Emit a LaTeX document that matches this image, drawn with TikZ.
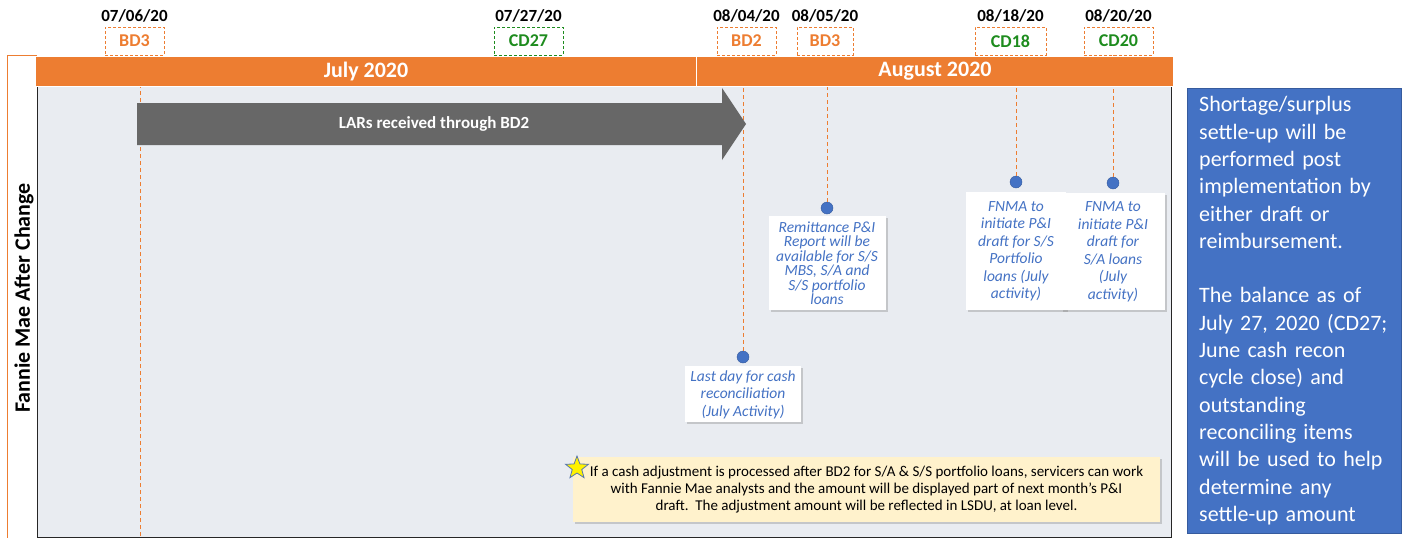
\documentclass[tikz,border=0pt]{standalone}
\usepackage{fontspec}
\setmainfont{Carlito}
\usetikzlibrary{shapes.geometric, positioning, shadows, calc}

\definecolor{fmorange}{HTML}{ED7D31}
\definecolor{fmgreen}{HTML}{1E8C1E}
\definecolor{fmblue}{HTML}{4472C4}
\definecolor{fmpanel}{HTML}{E9ECF1}
\definecolor{fmnote}{HTML}{FFF2CC}
\definecolor{fmgray}{HTML}{676767}

\begin{document}
\begin{tikzpicture}[
    x=1pt, y=-1pt,
    month/.style = {rectangle, fill=fmorange, draw=white, line width=1pt, minimum height=30pt, text=white, font=\fontsize{22}{24}\selectfont\bfseries, inner sep=0pt},
    datebox/.style = {rectangle, draw=fmorange, dash pattern=on 3pt off 2pt, line width=0.8pt, minimum height=28pt, font=\fontsize{18}{20}\selectfont\bfseries, inner sep=0pt},
    datetxt/.style = {font=\fontsize{17}{19}\selectfont\bfseries, inner sep=0pt},
    guide/.style = {draw=fmorange, dash pattern=on 4pt off 3pt, line width=0.8pt},
    dot/.style = {circle, fill=fmblue, draw=fmblue!80!black, inner sep=0pt, minimum size=12pt},
    callout/.style = {rectangle, fill=white, drop shadow={shadow xshift=2pt, shadow yshift=-2pt, opacity=0.35}, text=fmblue, font=\fontsize{15.5}{17.5}\selectfont\itshape, align=center, inner sep=2pt}
]
\useasboundingbox (0,0) rectangle (1408,538);

% Side label
\draw[fmorange, line width=0.8pt] (37,55) -- (7,55) -- (7,538);
\node[rotate=90, font=\fontsize{22}{24}\selectfont\bfseries] (lane) at (24,298) {Fannie Mae After Change};

% Panel
\node[rectangle, fill=fmpanel, draw=black!85, line width=1.2pt, anchor=north west, minimum width=1134pt, minimum height=451pt, inner sep=0pt] (panel) at (37,86) {};

% Date markers
\node[datebox, minimum width=59pt, text=fmorange] (bd3jul) at (134.5,41) {BD3};
\node[datebox, minimum width=69pt, draw=fmgreen, text=fmgreen] (cd27) at (528.5,41) {CD27};
\node[datebox, minimum width=59pt, text=fmorange] (bd2) at (746.5,41) {BD2};
\node[datebox, minimum width=56pt, text=fmorange] (bd3aug) at (825,41) {BD3};
\node[datebox, minimum width=71pt, text=fmgreen] (cd18) at (1010.5,41) {CD18};
\node[datebox, minimum width=69pt, text=fmgreen] (cd20) at (1118.5,41) {CD20};

\node[datetxt, above=4pt of bd3jul] (d0706) {07/06/20};
\node[datetxt, above=4pt of cd27] (d0727) {07/27/20};
\node[datetxt, above=4pt of bd2] (d0804) {08/04/20};
\node[datetxt, above=4pt of bd3aug] (d0805) {08/05/20};
\node[datetxt, above=4pt of cd18] (d0818) {08/18/20};
\node[datetxt, above=4pt of cd20] (d0820) {08/20/20};

% Dots
\coordinate (g1) at (140,536);
\node[dot] (dot1) at (743,357) {};
\node[dot] (dot2) at (827,208) {};
\node[dot] (dot3) at (1016,182) {};
\node[dot] (dot4) at (1113,183) {};

% Guides
\draw[guide] (g1) -- (g1 |- bd3jul.south);
\draw[guide] (dot1) -- (dot1 |- bd2.south);
\draw[guide] (dot2) -- (dot2 |- bd3aug.south);
\draw[guide] (dot3) -- (dot3 |- cd18.south);
\draw[guide] (dot4) -- (dot4 |- cd20.south);

% Month header
\node[month, anchor=north west, minimum width=661pt] (july) at (35,56) {July 2020};
\node[month, anchor=north west, minimum width=477pt] (august) at (696,56) {August 2020};

% LAR arrow
\fill[fmgray] (137,103) -- (722,103) -- (722,88) -- (746,124) -- (722,160) -- (722,145) -- (137,145) -- cycle;
\node[text=white, font=\fontsize{17}{19}\selectfont\bfseries] (lars) at (434,124) {LARs received through BD2};

% Callouts
\node[callout, below=3pt of dot1, minimum width=116pt, minimum height=56pt] (cashday) {Last day for cash\\reconciliation\\(July Activity)};
\node[callout, below=2pt of dot2, minimum width=117pt, minimum height=94pt, font=\fontsize{15.5}{14.5}\selectfont\itshape] (remit) {Remittance P\&I\\Report will be\\available for S/S\\MBS, S/A and\\S/S portfolio\\loans};
\node[callout, below=4pt of dot3, minimum width=100pt, minimum height=118pt] (draftss) {FNMA to\\initiate P\&I\\draft for S/S\\Portfolio\\loans (July\\activity)};
\node[callout, below=4pt of dot4, minimum width=104pt, minimum height=117pt] (draftsa) {FNMA to\\initiate P\&I\\draft for\\S/A loans\\(July\\activity)};

% Note
\node[rectangle, fill=fmnote, drop shadow={shadow xshift=2pt, shadow yshift=-2pt, opacity=0.35}, minimum width=587pt, minimum height=65pt, align=center, font=\fontsize{15}{17}\selectfont, inner sep=0pt] (note) at (866.5,489.5) {If a cash adjustment is processed after BD2 for S/A \& S/S portfolio loans, servicers can work\\with Fannie Mae analysts and the amount will be displayed part of next month’s P\&I\\draft.\ \ The adjustment amount will be reflected in LSDU, at loan level.};
\node[star, star points=5, star point ratio=2.4, fill=yellow, draw=fmblue!70!gray, line width=0.8pt, minimum size=24pt, inner sep=0pt] (flag) at (577,468) {};

% Settle-up box
\node[rectangle, fill=fmblue, draw=fmblue!80!black, anchor=north west, minimum width=214pt, minimum height=445pt, text width=190pt, inner xsep=12pt, align=left, text=white, font=\fontsize{22}{27.3}\selectfont] (settle) at (1187,88) {Shortage/surplus\\settle-up will be\\performed post\\implementation by\\either draft or\\reimbursement.\\[27.3pt]The balance as of\\July 27, 2020 (CD27;\\June cash recon\\cycle close) and\\outstanding\\reconciling items\\will be used to help\\determine any\\settle-up amount};
\end{tikzpicture}
\end{document}
